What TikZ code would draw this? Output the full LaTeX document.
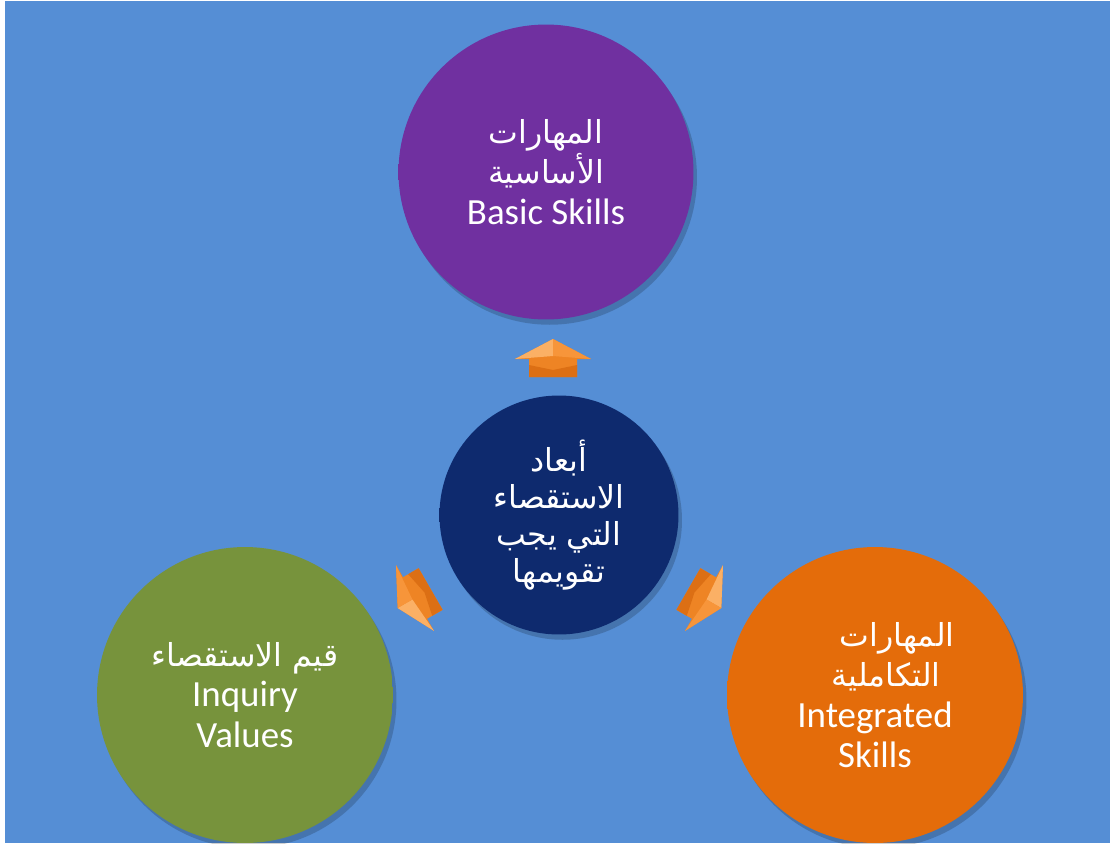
\documentclass[tikz,border=0pt]{standalone}
\usepackage{fontspec}
\setmainfont{Carlito}
\newfontfamily\arabicfont[Script=Arabic]{DejaVu Sans}
\TeXXeTstate=1
\definecolor{bg}{HTML}{558ED5}
\definecolor{purp}{HTML}{7030A0}
\definecolor{navy}{HTML}{0E2A6E}
\definecolor{olive}{HTML}{77933C}
\definecolor{orng}{HTML}{E46C0A}
\definecolor{arrlight}{HTML}{FBB065}
\definecolor{arrmid}{HTML}{F7953A}
\definecolor{arrbody}{HTML}{EE8424}
\definecolor{arrdark}{HTML}{DC6F14}
\colorlet{orbin}{purp}
\colorlet{orbout}{purp}
\pgfdeclareradialshading[orbin,orbout]{orb}{\pgfpoint{0bp}{0bp}}{color(0bp)=(orbin); color(40bp)=(orbin); color(48bp)=(orbout); color(50bp)=(orbout!85!black)}
\newcommand\ar[1]{{\arabicfont\fontsize{18}{23}\selectfont\beginR #1\endR}}
\tikzset{
  orbcol/.code={\colorlet{orbin}{#1}\colorlet{orbout}{#1!88!black}},
  bubble/.style={circle, inner sep=0pt, text=white, align=center,
    font=\fontsize{21}{23}\selectfont, shading=orb,
    preaction={fill=black, opacity=0.18, transform canvas={shift={(2pt,-3pt)}}}},
  blockarrow/.pic={
    \fill[arrbody] (0,-20) -- (38,0) -- (24,0) -- (24,18) -- (-24,18) -- (-24,0) -- (-38,0) -- cycle;
    \fill[arrdark] (-24,6) -- (0,11) -- (24,6) -- (24,18) -- (-24,18) -- cycle;
    \fill[arrlight] (0,-20) -- (-38,0) -- (0,-3) -- cycle;
    \fill[arrmid] (0,-20) -- (38,0) -- (0,-3) -- cycle;
  }
}
\begin{document}
\begin{tikzpicture}[x=0.02cm, y=-0.02cm]
\useasboundingbox (0,0) rectangle (1110,843);
\fill[white] (0,0) rectangle (1110,843);
\fill[bg] (5,1) rectangle (1110,843);

\node[bubble, orbcol=purp, minimum size=5.9cm] (basic) at (546,172)
  {\ar{المهارات}\\\ar{الأساسية}\\Basic Skills};
\node[bubble, orbcol=navy, minimum size=4.78cm, font=\fontsize{21}{21}\selectfont] (center) at (559,515)
  {\ar{أبعاد}\\\ar{الاستقصاء}\\\ar{التي يجب}\\\ar{تقويمها}};
\node[bubble, orbcol=olive, minimum size=5.92cm] (values) at (245,695)
  {\ar{قيم الاستقصاء}\\Inquiry\\Values};
\node[bubble, orbcol=orng, minimum size=5.92cm] (integrated) at (875,695)
  {\hspace*{1.2em}\ar{المهارات}\\\hspace*{0.6em}\ar{التكاملية}\\Integrated\\Skills};

\pic at (553,359) {blockarrow};
\pic[rotate=120] at (415,598) {blockarrow};
\pic[rotate=-120] at (704,598) {blockarrow};
\end{tikzpicture}
\end{document}
